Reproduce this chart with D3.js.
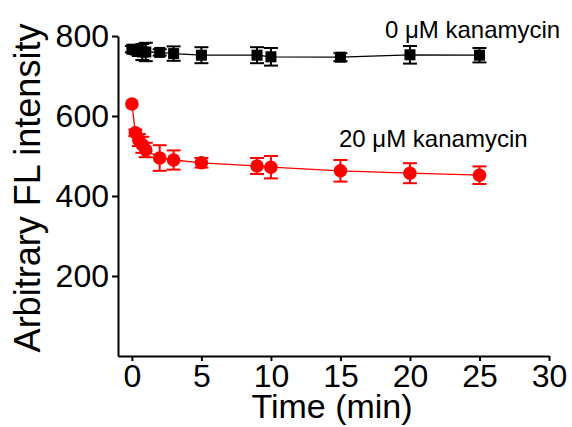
<!DOCTYPE html>
<meta charset="utf-8">
<head>
    <script type="text/javascript" src="https://cdn.jsdelivr.net/npm/d3@7"></script>
    <style>
        body { margin: 0; background: #fff; }
        text { font-family: "Liberation Sans", Arial, sans-serif; }
    </style>
    <title>Kanamycin FL intensity</title>
</head>
<body>
    <script>
        // data
        var times = [0, 0.25, 0.5, 0.75, 1, 2, 3, 5, 9, 10, 15, 20, 25];
        var ctrlMean = [767, 765, 762, 760, 760, 759, 756, 752, 752, 748, 747, 753, 752];
        var ctrlErr  = [8, 10, 12, 20, 23, 8, 18, 20, 20, 22, 10, 22, 18];
        var kanaMean = [630, 558, 540, 528, 515, 495, 490, 483, 475, 472, 463, 457, 452];
        var kanaErr  = [0, 8, 15, 20, 18, 32, 24, 12, 20, 28, 27, 25, 22];
        var xTicks = [0, 5, 10, 15, 20, 25, 30];
        var yTicks = [200, 400, 600, 800];

        var width = 572, height = 427;

        var svg = d3.select("body").append("svg")
            .attr("width", width)
            .attr("height", height);

        var x = d3.scaleLinear().domain([-1, 30]).range([118, 549]);
        var y = d3.scaleLinear().domain([0, 800]).range([356, 36]);

        // axes
        var xAxis = svg.append("g")
            .attr("transform", "translate(0," + y(0) + ")")
            .call(d3.axisBottom(x).tickValues(xTicks).tickSize(5).tickPadding(4).tickSizeOuter(0));
        var yAxis = svg.append("g")
            .attr("transform", "translate(" + x(-1) + ",0)")
            .call(d3.axisLeft(y).tickValues(yTicks).tickSize(6).tickPadding(3).tickSizeOuter(0));

        [xAxis, yAxis].forEach(function(a) {
            a.select(".domain").attr("stroke", "#000").attr("stroke-width", 2);
            a.selectAll(".tick line").attr("stroke", "#000").attr("stroke-width", 2);
            a.selectAll(".tick text")
                .attr("fill", "#000")
                .style("font-size", "32px")
                .style("font-family", "'Liberation Sans', Arial, sans-serif");
        });
        xAxis.selectAll(".tick text").attr("dy", "0.7em");

        // axis titles
        svg.append("text")
            .attr("x", 332).attr("y", 418)
            .attr("text-anchor", "middle")
            .style("font-size", "34px")
            .text("Time (min)");
        svg.append("text")
            .attr("transform", "translate(40,188) rotate(-90)")
            .attr("text-anchor", "middle")
            .style("font-size", "36px")
            .text("Arbitrary FL intensity");

        function drawSeries(means, errs, color, shape) {
            var pts = times.map(function(t, i) { return {t: t, v: means[i], e: errs[i]}; });
            var g = svg.append("g");
            g.append("path")
                .datum(pts)
                .attr("fill", "none")
                .attr("stroke", color)
                .attr("stroke-width", 1.3)
                .attr("d", d3.line().x(function(d) { return x(d.t); }).y(function(d) { return y(d.v); }));
            var eb = g.selectAll(".eb").data(pts.filter(function(d) { return d.e > 0; })).enter().append("g")
                .attr("stroke", color).attr("stroke-width", 2);
            eb.append("line")
                .attr("x1", function(d) { return x(d.t); }).attr("x2", function(d) { return x(d.t); })
                .attr("y1", function(d) { return y(d.v + d.e); }).attr("y2", function(d) { return y(d.v - d.e); });
            eb.append("line")
                .attr("x1", function(d) { return x(d.t) - 7; }).attr("x2", function(d) { return x(d.t) + 7; })
                .attr("y1", function(d) { return y(d.v + d.e); }).attr("y2", function(d) { return y(d.v + d.e); });
            eb.append("line")
                .attr("x1", function(d) { return x(d.t) - 7; }).attr("x2", function(d) { return x(d.t) + 7; })
                .attr("y1", function(d) { return y(d.v - d.e); }).attr("y2", function(d) { return y(d.v - d.e); });
            if (shape === "square") {
                g.selectAll("rect").data(pts).enter().append("rect")
                    .attr("x", function(d) { return x(d.t) - 5.5; })
                    .attr("y", function(d) { return y(d.v) - 5.5; })
                    .attr("width", 11).attr("height", 11)
                    .attr("fill", color);
            } else {
                g.selectAll("circle").data(pts).enter().append("circle")
                    .attr("cx", function(d) { return x(d.t); })
                    .attr("cy", function(d) { return y(d.v); })
                    .attr("r", 6.8)
                    .attr("fill", color);
            }
        }

        drawSeries(ctrlMean, ctrlErr, "#000", "square");
        drawSeries(kanaMean, kanaErr, "#ff0000", "circle");

        // series labels
        svg.append("text")
            .attr("x", 385).attr("y", 38)
            .style("font-size", "24px")
            .text("0 \u03bcM kanamycin");
        svg.append("text")
            .attr("x", 339).attr("y", 147)
            .style("font-size", "24px")
            .text("20 \u03bcM kanamycin");
    </script>
</body>
</html>
